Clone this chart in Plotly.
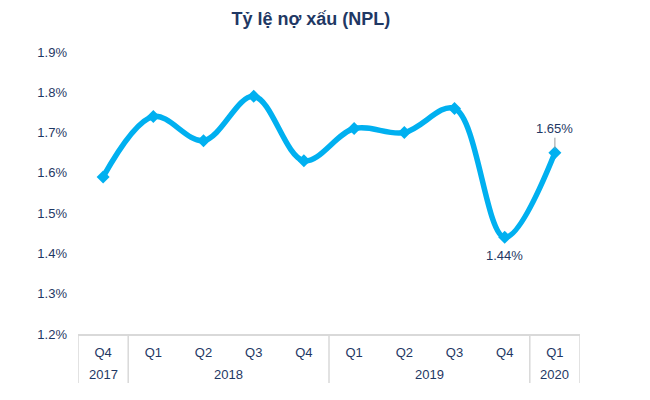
import plotly.graph_objects as go

years = ["2017", "2018", "2018", "2018", "2018", "2019", "2019", "2019", "2019", "2020"]
quarters = ["Q4", "Q1", "Q2", "Q3", "Q4", "Q1", "Q2", "Q3", "Q4", "Q1"]
npl = [1.59, 1.74, 1.68, 1.79, 1.63, 1.71, 1.70, 1.76, 1.44, 1.65]
label_idx = [8, 9]
labels = ["1.44%", "1.65%"]
y_ticks = [1.2, 1.3, 1.4, 1.5, 1.6, 1.7, 1.8, 1.9]

navy = "#1f3864"
blue = "#00b0f0"
grid_c = "#d9d9d9"
font_family = "Liberation Sans, Arial"

periods = [f"{q} {y}" for q, y in zip(quarters, years)]

fig = go.Figure()
fig.add_trace(go.Scatter(
    x=periods, y=npl,
    mode="lines+markers",
    line=dict(color=blue, width=5.5, shape="spline", smoothing=1.0),
    marker=dict(symbol="diamond", size=10, color=blue),
    hoverinfo="skip",
))

# data labels
fig.add_annotation(x=periods[label_idx[0]], y=npl[label_idx[0]], xref="x", yref="y",
                   text=labels[0], showarrow=False, yshift=-18,
                   font=dict(family=font_family, size=13, color=navy))
fig.add_annotation(x=periods[label_idx[1]], y=npl[label_idx[1]], xref="x", yref="y",
                   text=labels[1], showarrow=True, arrowhead=0, arrowwidth=1,
                   arrowcolor="#999999", ax=0, ay=-24, standoff=4,
                   font=dict(family=font_family, size=13, color=navy))

# year row and table dividers
plot_h = 282.0
year_groups = []
for i, y in enumerate(years):
    if not year_groups or year_groups[-1][0] != y:
        year_groups.append([y, i, i])
    else:
        year_groups[-1][2] = i
bounds = [year_groups[0][1] - 0.5] + [g[2] + 0.5 for g in year_groups]
for b in bounds:
    fig.add_shape(type="line", xref="x", yref="paper", x0=b, x1=b,
                  y0=0, y1=-49 / plot_h, line=dict(color=grid_c, width=1.5))
for y, i0, i1 in year_groups:
    fig.add_annotation(x=(i0 + i1) / 2, y=-40 / plot_h, xref="x", yref="paper",
                       text=y, showarrow=False, yanchor="middle",
                       font=dict(family=font_family, size=13, color=navy))

fig.update_layout(
    width=650, height=400,
    margin=dict(l=70, r=78, t=44, b=74),
    paper_bgcolor="white", plot_bgcolor="white",
    showlegend=False,
    title=dict(text="<b>Tỷ lệ nợ xấu (NPL)</b>", x=0.466, xref="container", xanchor="center",
               y=1 - 11 / 400, yref="container", yanchor="middle",
               font=dict(family=font_family, size=18, color=navy)),
    font=dict(family=font_family, size=13, color=navy),
)
fig.update_yaxes(
    range=[1.2, 1.9], tickvals=y_ticks,
    ticktext=[f"{v:.1f}%" for v in y_ticks],
    showgrid=False, zeroline=False, showline=False, ticks="",
    ticklabelstandoff=10, automargin=False,
    tickfont=dict(size=13, color=navy),
)
fig.update_xaxes(
    type="category", range=[-0.5, len(periods) - 0.5],
    tickvals=periods, ticktext=quarters,
    showgrid=False, showline=True, linecolor=grid_c, linewidth=1.5,
    ticks="", ticklabelstandoff=6, automargin=False,
    tickfont=dict(size=13, color=navy),
)

fig.write_html("out.html")
